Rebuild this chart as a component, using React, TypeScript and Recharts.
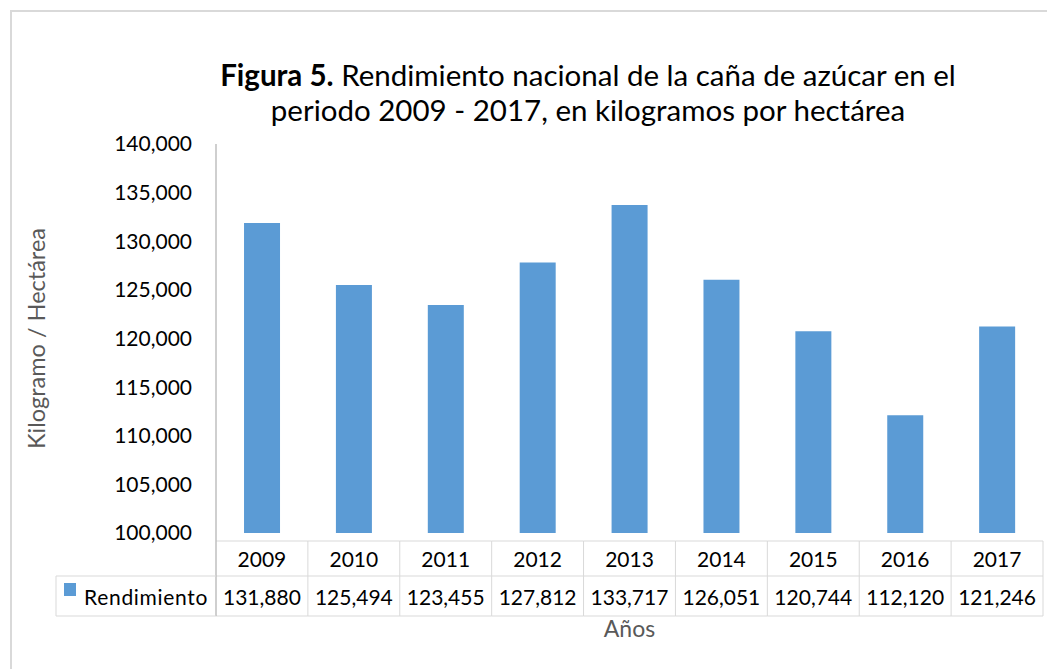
import React from 'react';
import { BarChart, Bar, XAxis, YAxis } from 'recharts';

const years = ['2009', '2010', '2011', '2012', '2013', '2014', '2015', '2016', '2017'];
const rendimiento = [131880, 125494, 123455, 127812, 133717, 126051, 120744, 112120, 121246];
const yTicks = [100000, 105000, 110000, 115000, 120000, 125000, 130000, 135000, 140000];
const seriesName = 'Rendimiento';
const titleBold = 'Figura 5.';
const titleRest1 = ' Rendimiento nacional de la caña de azúcar en el';
const titleLine2 = 'periodo 2009 - 2017, en kilogramos por hectárea';
const yLabel = 'Kilogramo / Hectárea';
const xLabel = 'Años';

const data = years.map((y, i) => ({ year: y, value: rendimiento[i] }));

const W = 1047;
const H = 661;
const plotLeft = 208;
const plotRight = 1035;
const colW = (plotRight - plotLeft) / years.length;
const FONT = 'Lato, "Open Sans", sans-serif';
const GRID = '#d9d9d9';
const AXIS = '#bfbfbf';
const BLUE = '#5b9bd5';
const fmt = (v: number) => v.toLocaleString('en-US');

function TableTick(props: any) {
  const { x, y, index } = props;
  const top = y + 8;
  const mid = y + 43;
  const bot = y + 83;
  const l = x - colW / 2;
  const r = x + colW / 2;
  const last = index === years.length - 1;
  const txt = { fontFamily: FONT, fontSize: 21, fill: '#000' } as any;
  return (
    <g>
      <line x1={l} x2={r} y1={top} y2={top} stroke={GRID} />
      <line x1={l} x2={r} y1={mid} y2={mid} stroke={GRID} />
      <line x1={l} x2={r} y1={bot} y2={bot} stroke={GRID} />
      <line x1={l} x2={l} y1={index === 0 ? y : top} y2={bot} stroke={index === 0 ? AXIS : GRID} strokeWidth={index === 0 ? 1.5 : 1} />
      {last && <line x1={r} x2={r} y1={top} y2={bot} stroke={GRID} />}
      <text x={x} y={(top + mid) / 2} textAnchor="middle" dominantBaseline="central" {...txt}>
        {years[index]}
      </text>
      <text x={x} y={(mid + bot) / 2} textAnchor="middle" dominantBaseline="central" {...txt}>
        {fmt(rendimiento[index])}
      </text>
      {index === 0 && (
        <g>
          <line x1={48} x2={l} y1={mid} y2={mid} stroke={GRID} />
          <line x1={48} x2={l} y1={bot} y2={bot} stroke={GRID} />
          <line x1={48} x2={48} y1={mid} y2={bot} stroke={GRID} />
          <rect x={56} y={mid + 7} width={12} height={13} fill={BLUE} />
          <text x={76} y={(mid + bot) / 2} textAnchor="start" dominantBaseline="central" letterSpacing={0.7} {...txt}>
            {seriesName}
          </text>
        </g>
      )}
    </g>
  );
}

export default function App() {
  return (
    <div style={{ position: 'relative', width: W, height: H, fontFamily: FONT }}>
      <div
        style={{
          position: 'absolute',
          left: 2,
          top: 2,
          width: W - 2,
          height: H - 2,
          borderTop: `2px solid ${GRID}`,
          borderLeft: `2px solid ${GRID}`,
          boxSizing: 'border-box',
        }}
      />
      <div
        style={{
          position: 'absolute',
          left: 130,
          top: 49,
          width: 900,
          textAlign: 'center',
          fontSize: 29.5,
          lineHeight: '35px',
          color: '#000',
          whiteSpace: 'nowrap',
        }}
      >
        <b>{titleBold}</b>
        {titleRest1}
        <br />
        {titleLine2}
      </div>
      <BarChart
        width={W}
        height={H}
        data={data}
        margin={{ top: 136, right: 12, left: 0, bottom: 53 }}
        barCategoryGap="30.5%"
        style={{ position: 'absolute', left: 0, top: 0 }}
      >
        <YAxis
          width={plotLeft}
          domain={[100000, 140000]}
          ticks={yTicks}
          tickFormatter={fmt}
          tickLine={false}
          tickSize={6}
          tickMargin={18}
          axisLine={{ stroke: AXIS, strokeWidth: 1.5 }}
          tick={{ fill: '#000', fontSize: 21, fontFamily: FONT }}
          allowDataOverflow
          label={{
            value: yLabel,
            angle: -90,
            position: 'insideLeft',
            offset: 29,
            style: { textAnchor: 'middle', fill: '#595959', fontSize: 23.5, fontFamily: FONT },
          }}
        />
        <XAxis
          dataKey="year"
          height={83}
          axisLine={false}
          tickLine={false}
          tickSize={0}
          tickMargin={0}
          interval={0}
          tick={<TableTick />}
          label={{
            value: xLabel,
            position: 'bottom',
            offset: 5,
            style: { fill: '#595959', fontSize: 23, fontFamily: FONT },
          }}
        />
        <Bar dataKey="value" fill={BLUE} isAnimationActive={false} />
      </BarChart>
    </div>
  );
}
